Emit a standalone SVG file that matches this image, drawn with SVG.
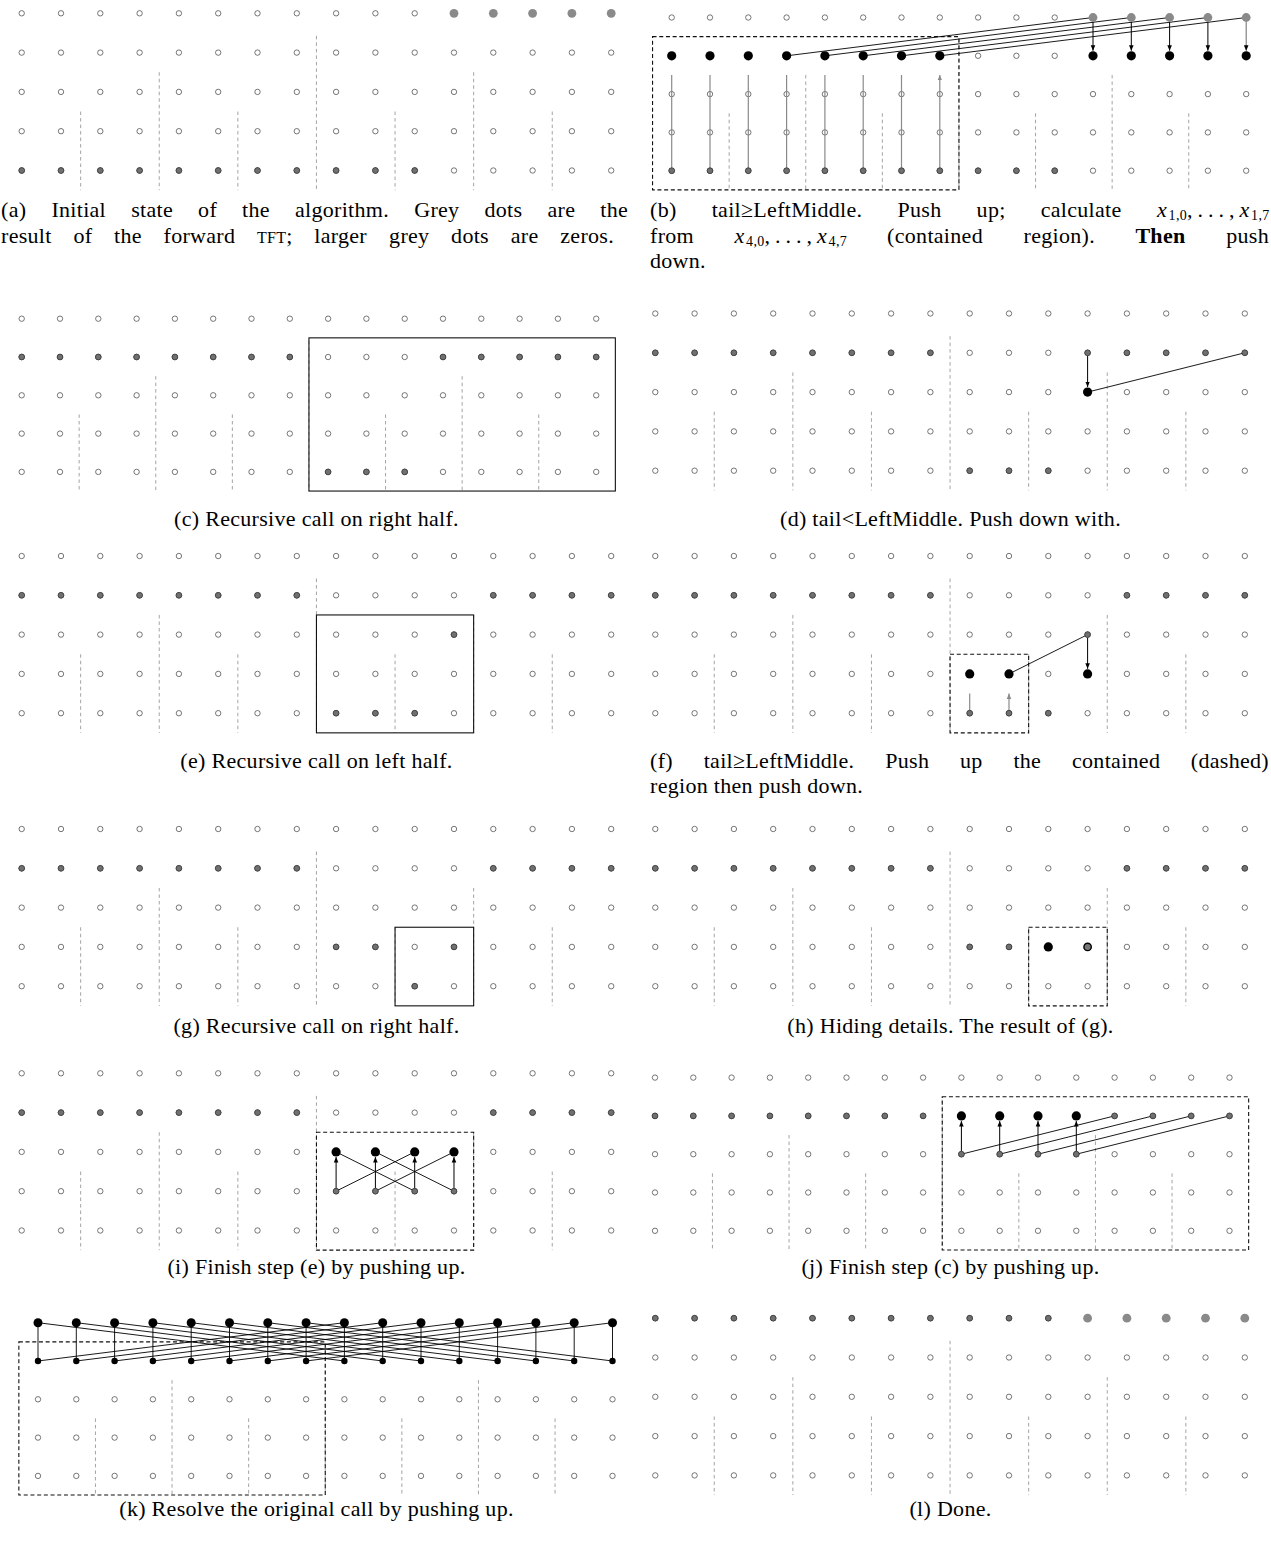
<svg xmlns="http://www.w3.org/2000/svg" width="1271" height="1542" viewBox="0 0 1271 1542">
<style>
.o{fill:none;stroke:#4a4a4a;stroke-width:0.75}
.g{fill:#707070;stroke:#333;stroke-width:0.75}
.G{fill:#8a8a8a}
.b{fill:#000}
.sp{fill:#777;stroke:#000;stroke-width:1.4}
.grid{fill:none;stroke:#9a9a9a;stroke-width:0.9;stroke-dasharray:3.5 3}
.dbox{fill:none;stroke:#111;stroke-width:1.1;stroke-dasharray:4 2.7}
.sbox{fill:none;stroke:#111;stroke-width:1.1}
.ln{fill:none;stroke:#000;stroke-width:0.9}
.ba{fill:none;stroke:#000;stroke-width:1;marker-end:url(#ahb)}
.bag{fill:none;stroke:#777;stroke-width:1.1;marker-end:url(#ahb)}
.ga{fill:none;stroke:#8a8a8a;stroke-width:1.2;marker-end:url(#ahg)}
.cap{font-family:"Liberation Serif","Times New Roman",serif;font-size:22px;letter-spacing:0.3px;fill:#000}
.mi{font-style:italic}
.sub{font-size:14px}
</style>
<defs>
<marker id="ahb" markerUnits="userSpaceOnUse" markerWidth="6" markerHeight="6" refX="5.5" refY="3" orient="auto" viewBox="0 0 6 6"><path d="M0,0.7L5.5,3L0,5.3z" fill="#000"/></marker>
<marker id="ahg" markerUnits="userSpaceOnUse" markerWidth="6" markerHeight="6" refX="5.5" refY="3" orient="auto" viewBox="0 0 6 6"><path d="M0,0.7L5.5,3L0,5.3z" fill="#8a8a8a"/></marker>
<g id="o39" class="o"><circle r="2.7"/><circle cx="39.3" r="2.7"/><circle cx="78.6" r="2.7"/><circle cx="117.9" r="2.7"/><circle cx="157.2" r="2.7"/><circle cx="196.5" r="2.7"/><circle cx="235.8" r="2.7"/><circle cx="275.1" r="2.7"/><circle cx="314.4" r="2.7"/><circle cx="353.7" r="2.7"/><circle cx="393" r="2.7"/><circle cx="432.3" r="2.7"/><circle cx="471.6" r="2.7"/><circle cx="510.9" r="2.7"/><circle cx="550.2" r="2.7"/><circle cx="589.5" r="2.7"/></g>
<g id="o38" class="o"><circle r="2.7"/><circle cx="38.3" r="2.7"/><circle cx="76.6" r="2.7"/><circle cx="114.9" r="2.7"/><circle cx="153.2" r="2.7"/><circle cx="191.5" r="2.7"/><circle cx="229.8" r="2.7"/><circle cx="268.1" r="2.7"/><circle cx="306.4" r="2.7"/><circle cx="344.7" r="2.7"/><circle cx="383" r="2.7"/><circle cx="421.3" r="2.7"/><circle cx="459.6" r="2.7"/><circle cx="497.9" r="2.7"/><circle cx="536.2" r="2.7"/><circle cx="574.5" r="2.7"/></g>
<path id="grid39" class="grid" d="M294.75,22.6V176.85M137.55,58.95V176.85M451.95,58.95V176.85M58.95,98.25V176.85M216.15,98.25V176.85M373.35,98.25V176.85M530.55,98.25V176.85"/>
<path id="grid38" class="grid" d="M287.25,22.1V172.35M134.05,57.45V172.35M440.45,57.45V172.35M57.45,95.75V172.35M210.65,95.75V172.35M363.85,95.75V172.35M517.05,95.75V172.35"/>
<g id="g07_39" class="g"><circle r="2.9"/><circle cx="39.3" r="2.9"/><circle cx="78.6" r="2.9"/><circle cx="117.9" r="2.9"/><circle cx="157.2" r="2.9"/><circle cx="196.5" r="2.9"/><circle cx="235.8" r="2.9"/><circle cx="275.1" r="2.9"/></g>
<g id="g810_39" class="g"><circle cx="314.4" r="2.9"/><circle cx="353.7" r="2.9"/><circle cx="393" r="2.9"/></g>
<g id="g1215_39" class="g"><circle cx="471.6" r="2.9"/><circle cx="510.9" r="2.9"/><circle cx="550.2" r="2.9"/><circle cx="589.5" r="2.9"/></g>
<g id="G1115_39" class="G"><circle cx="432.3" r="4.4"/><circle cx="471.6" r="4.4"/><circle cx="510.9" r="4.4"/><circle cx="550.2" r="4.4"/><circle cx="589.5" r="4.4"/></g>
<g id="g07_38" class="g"><circle r="2.9"/><circle cx="38.3" r="2.9"/><circle cx="76.6" r="2.9"/><circle cx="114.9" r="2.9"/><circle cx="153.2" r="2.9"/><circle cx="191.5" r="2.9"/><circle cx="229.8" r="2.9"/><circle cx="268.1" r="2.9"/></g>
<g id="g810_38" class="g"><circle cx="306.4" r="2.9"/><circle cx="344.7" r="2.9"/><circle cx="383" r="2.9"/></g>
<g id="g1215_38" class="g"><circle cx="459.6" r="2.9"/><circle cx="497.9" r="2.9"/><circle cx="536.2" r="2.9"/><circle cx="574.5" r="2.9"/></g>
</defs>
<rect width="1271" height="1542" fill="#fff"/>

<!-- (a) -->
<g id="panel-a" transform="translate(21.7,13.3)">
<use href="#grid39"/>
<g id="a-open"><use href="#o39"/><use href="#o39" y="39.3"/><use href="#o39" y="78.6"/><use href="#o39" y="117.9"/><use href="#o39" y="157.2"/></g>
<g id="a-dots"><use href="#G1115_39"/><use href="#g07_39" y="157.2"/><use href="#g810_39" y="157.2"/></g>
</g>

<!-- (b) -->
<g id="panel-b" transform="translate(671.7,17.5)">
<use href="#grid38"/>
<g id="b-open"><use href="#o38"/><use href="#o38" y="38.3"/><use href="#o38" y="76.6"/><use href="#o38" y="114.9"/><use href="#o38" y="153.2"/></g>
<rect class="dbox" x="-19.15" y="19.15" width="306.4" height="153.2"/>
<g id="b-connectors">
<path class="ga" d="M0,153.2V57.45M38.3,153.2V57.45M76.6,153.2V57.45M114.9,153.2V57.45M153.2,153.2V57.45M191.5,153.2V57.45M229.8,153.2V57.45M268.1,153.2V57.45"/>
<path class="ln" d="M114.9,38.3L421.3,0M153.2,38.3L459.6,0M191.5,38.3L497.9,0M229.8,38.3L536.2,0M268.1,38.3L574.5,0"/>
<path class="ba" d="M421.3,4.5V33.2"/><path class="ba" d="M459.6,4.5V33.2"/><path class="ba" d="M497.9,4.5V33.2"/><path class="ba" d="M536.2,4.5V33.2"/><path class="bag" d="M574.5,4.5V33.2"/>
</g>
<g id="b-dots">
<g class="G"><circle cx="421.3" r="4.4"/><circle cx="459.6" r="4.4"/><circle cx="497.9" r="4.4"/><circle cx="536.2" r="4.4"/><circle cx="574.5" r="4.4"/></g>
<g class="b"><circle cy="38.3" r="4.6"/><circle cx="38.3" cy="38.3" r="4.6"/><circle cx="76.6" cy="38.3" r="4.6"/><circle cx="114.9" cy="38.3" r="4.6"/><circle cx="153.2" cy="38.3" r="4.6"/><circle cx="191.5" cy="38.3" r="4.6"/><circle cx="229.8" cy="38.3" r="4.6"/><circle cx="268.1" cy="38.3" r="4.6"/><circle cx="421.3" cy="38.3" r="4.6"/><circle cx="459.6" cy="38.3" r="4.6"/><circle cx="497.9" cy="38.3" r="4.6"/><circle cx="536.2" cy="38.3" r="4.6"/><circle cx="574.5" cy="38.3" r="4.6"/></g>
<use href="#g07_38" y="153.2"/><use href="#g810_38" y="153.2"/>
</g>
</g>

<!-- (c) -->
<g id="panel-c" transform="translate(21.7,318.7)">
<use href="#grid38"/>
<g id="c-open"><use href="#o38"/><use href="#o38" y="38.3"/><use href="#o38" y="76.6"/><use href="#o38" y="114.9"/><use href="#o38" y="153.2"/></g>
<rect class="sbox" x="287.25" y="19.15" width="306.4" height="153.2"/>
<g id="c-dots"><use href="#g07_38" y="38.3"/><use href="#g1215_38" y="38.3"/><circle class="g" cx="421.3" cy="38.3" r="2.9"/><use href="#g810_38" y="153.2"/></g>
</g>

<!-- (d) -->
<g id="panel-d" transform="translate(655.3,313.5)">
<use href="#grid39"/>
<g id="d-open"><use href="#o39"/><use href="#o39" y="39.3"/><use href="#o39" y="78.6"/><use href="#o39" y="117.9"/><use href="#o39" y="157.2"/></g>
<g id="d-connectors"><path class="ba" d="M432.3,42.5V73.5"/><path class="ln" d="M432.3,78.6L589.5,39.3"/></g>
<g id="d-dots"><use href="#g07_39" y="39.3"/><use href="#g1215_39" y="39.3"/><circle class="g" cx="432.3" cy="39.3" r="2.9"/><circle class="b" cx="432.3" cy="78.6" r="4.6"/><use href="#g810_39" y="157.2"/></g>
</g>

<!-- (e) -->
<g id="panel-e" transform="translate(21.7,556)">
<use href="#grid39"/>
<g id="e-open"><use href="#o39"/><use href="#o39" y="39.3"/><use href="#o39" y="78.6"/><use href="#o39" y="117.9"/><use href="#o39" y="157.2"/></g>
<rect class="sbox" x="294.75" y="58.95" width="157.2" height="117.9"/>
<g id="e-dots"><use href="#g07_39" y="39.3"/><use href="#g1215_39" y="39.3"/><circle class="g" cx="432.3" cy="78.6" r="2.9"/><use href="#g810_39" y="157.2"/></g>
</g>

<!-- (f) -->
<g id="panel-f" transform="translate(655.3,556)">
<use href="#grid39"/>
<g id="f-open"><use href="#o39"/><use href="#o39" y="39.3"/><use href="#o39" y="78.6"/><use href="#o39" y="117.9"/><use href="#o39" y="157.2"/></g>
<rect class="dbox" x="294.75" y="98.25" width="78.6" height="78.6"/>
<g id="f-connectors"><path class="ga" d="M314.4,157.2V137.55M353.7,157.2V137.55"/><path class="ba" d="M432.3,81.8V112.8"/><path class="ln" d="M432.3,78.6L353.7,117.9"/></g>
<g id="f-dots"><use href="#g07_39" y="39.3"/><use href="#g1215_39" y="39.3"/><circle class="g" cx="432.3" cy="78.6" r="2.9"/><g class="b"><circle cx="314.4" cy="117.9" r="4.6"/><circle cx="353.7" cy="117.9" r="4.6"/><circle cx="432.3" cy="117.9" r="4.6"/></g><use href="#g810_39" y="157.2"/></g>
</g>

<!-- (g) -->
<g id="panel-g" transform="translate(21.7,829)">
<use href="#grid39"/>
<g id="g-open"><use href="#o39"/><use href="#o39" y="39.3"/><use href="#o39" y="78.6"/><use href="#o39" y="117.9"/><use href="#o39" y="157.2"/></g>
<rect class="sbox" x="373.35" y="98.25" width="78.6" height="78.6"/>
<g id="g-dots"><use href="#g07_39" y="39.3"/><use href="#g1215_39" y="39.3"/><g class="g"><circle cx="314.4" cy="117.9" r="2.9"/><circle cx="353.7" cy="117.9" r="2.9"/><circle cx="432.3" cy="117.9" r="2.9"/><circle cx="393" cy="157.2" r="2.9"/></g></g>
</g>

<!-- (h) -->
<g id="panel-h" transform="translate(655.3,829)">
<use href="#grid39"/>
<g id="h-open"><use href="#o39"/><use href="#o39" y="39.3"/><use href="#o39" y="78.6"/><use href="#o39" y="117.9"/><use href="#o39" y="157.2"/></g>
<rect class="dbox" x="373.35" y="98.25" width="78.6" height="78.6"/>
<g id="h-dots"><use href="#g07_39" y="39.3"/><use href="#g1215_39" y="39.3"/><g class="g"><circle cx="314.4" cy="117.9" r="2.9"/><circle cx="353.7" cy="117.9" r="2.9"/></g><circle class="b" cx="393" cy="117.9" r="4.6"/><circle class="sp" cx="432.3" cy="117.9" r="3.7"/></g>
</g>

<!-- (i) -->
<g id="panel-i" transform="translate(21.7,1073.3)">
<use href="#grid39"/>
<g id="i-open"><use href="#o39"/><use href="#o39" y="39.3"/><use href="#o39" y="78.6"/><use href="#o39" y="117.9"/><use href="#o39" y="157.2"/></g>
<rect class="dbox" x="294.75" y="58.95" width="157.2" height="117.9"/>
<g id="i-connectors"><path class="ln" d="M314.4,78.6L393,117.9M353.7,78.6L432.3,117.9M314.4,117.9L393,78.6M353.7,117.9L432.3,78.6"/><path class="ba" d="M314.4,114.9V83.8"/><path class="ba" d="M353.7,114.9V83.8"/><path class="ba" d="M393,114.9V83.8"/><path class="ba" d="M432.3,114.9V83.8"/></g>
<g id="i-dots"><use href="#g07_39" y="39.3"/><use href="#g1215_39" y="39.3"/><g class="b"><circle cx="314.4" cy="78.6" r="4.6"/><circle cx="353.7" cy="78.6" r="4.6"/><circle cx="393" cy="78.6" r="4.6"/><circle cx="432.3" cy="78.6" r="4.6"/></g><g class="g"><circle cx="314.4" cy="117.9" r="2.9"/><circle cx="353.7" cy="117.9" r="2.9"/><circle cx="393" cy="117.9" r="2.9"/><circle cx="432.3" cy="117.9" r="2.9"/></g></g>
</g>

<!-- (j) -->
<g id="panel-j" transform="translate(655,1077.6)">
<use href="#grid38"/>
<g id="j-open"><use href="#o38"/><use href="#o38" y="38.3"/><use href="#o38" y="76.6"/><use href="#o38" y="114.9"/><use href="#o38" y="153.2"/></g>
<rect class="dbox" x="287.25" y="19.15" width="306.4" height="153.2"/>
<g id="j-connectors"><path class="ln" d="M306.4,76.6L459.6,38.3M344.7,76.6L497.9,38.3M383,76.6L536.2,38.3M421.3,76.6L574.5,38.3"/><path class="ba" d="M306.4,73.6V43.5"/><path class="ba" d="M344.7,73.6V43.5"/><path class="ba" d="M383,73.6V43.5"/><path class="ba" d="M421.3,73.6V43.5"/></g>
<g id="j-dots"><use href="#g07_38" y="38.3"/><use href="#g1215_38" y="38.3"/><g class="b"><circle cx="306.4" cy="38.3" r="4.6"/><circle cx="344.7" cy="38.3" r="4.6"/><circle cx="383" cy="38.3" r="4.6"/><circle cx="421.3" cy="38.3" r="4.6"/></g><g class="g"><circle cx="306.4" cy="76.6" r="2.9"/><circle cx="344.7" cy="76.6" r="2.9"/><circle cx="383" cy="76.6" r="2.9"/><circle cx="421.3" cy="76.6" r="2.9"/></g></g>
</g>

<!-- (k) -->
<g id="panel-k" transform="translate(38,1322.7)">
<use href="#grid38"/>
<g id="k-open"><use href="#o38" y="76.6"/><use href="#o38" y="114.9"/><use href="#o38" y="153.2"/></g>
<rect class="dbox" x="-19.15" y="19.15" width="306.4" height="153.2"/>
<g id="k-connectors">
<path class="ln" d="M0,38.3V0M38.3,38.3V0M76.6,38.3V0M114.9,38.3V0M153.2,38.3V0M191.5,38.3V0M229.8,38.3V0M268.1,38.3V0M306.4,38.3V0M344.7,38.3V0M383,38.3V0M421.3,38.3V0M459.6,38.3V0M497.9,38.3V0M536.2,38.3V0M574.5,38.3V0"/>
<path class="ln" d="M0,0L306.4,38.3M0,38.3L306.4,0M38.3,0L344.7,38.3M38.3,38.3L344.7,0M76.6,0L383,38.3M76.6,38.3L383,0M114.9,0L421.3,38.3M114.9,38.3L421.3,0M153.2,0L459.6,38.3M153.2,38.3L459.6,0M191.5,0L497.9,38.3M191.5,38.3L497.9,0M229.8,0L536.2,38.3M229.8,38.3L536.2,0M268.1,0L574.5,38.3M268.1,38.3L574.5,0"/>
</g>
<g id="k-dots" class="b">
<circle r="4.5"/><circle cx="38.3" r="4.5"/><circle cx="76.6" r="4.5"/><circle cx="114.9" r="4.5"/><circle cx="153.2" r="4.5"/><circle cx="191.5" r="4.5"/><circle cx="229.8" r="4.5"/><circle cx="268.1" r="4.5"/><circle cx="306.4" r="4.5"/><circle cx="344.7" r="4.5"/><circle cx="383" r="4.5"/><circle cx="421.3" r="4.5"/><circle cx="459.6" r="4.5"/><circle cx="497.9" r="4.5"/><circle cx="536.2" r="4.5"/><circle cx="574.5" r="4.5"/>
<circle cy="38.3" r="3.2"/><circle cx="38.3" cy="38.3" r="3.2"/><circle cx="76.6" cy="38.3" r="3.2"/><circle cx="114.9" cy="38.3" r="3.2"/><circle cx="153.2" cy="38.3" r="3.2"/><circle cx="191.5" cy="38.3" r="3.2"/><circle cx="229.8" cy="38.3" r="3.2"/><circle cx="268.1" cy="38.3" r="3.2"/><circle cx="306.4" cy="38.3" r="3.2"/><circle cx="344.7" cy="38.3" r="3.2"/><circle cx="383" cy="38.3" r="3.2"/><circle cx="421.3" cy="38.3" r="3.2"/><circle cx="459.6" cy="38.3" r="3.2"/><circle cx="497.9" cy="38.3" r="3.2"/><circle cx="536.2" cy="38.3" r="3.2"/><circle cx="574.5" cy="38.3" r="3.2"/>
</g>
</g>

<!-- (l) -->
<g id="panel-l" transform="translate(655.3,1318.2)">
<use href="#grid39"/>
<g id="l-open"><use href="#o39"/><use href="#o39" y="39.3"/><use href="#o39" y="78.6"/><use href="#o39" y="117.9"/><use href="#o39" y="157.2"/></g>
<g id="l-dots"><use href="#g07_39"/><use href="#g810_39"/><use href="#G1115_39"/></g>
</g>

<!-- captions -->
<g id="captions" class="cap">
<text y="217"><tspan x="1">(a)</tspan><tspan x="51.4">Initial</tspan><tspan x="131.2">state</tspan><tspan x="198.1">of</tspan><tspan x="242.1">the</tspan><tspan x="295">algorithm.</tspan><tspan x="414.2">Grey</tspan><tspan x="484.5">dots</tspan><tspan x="547.5">are</tspan></text>
<text x="628" y="217" text-anchor="end">the</text>
<text y="243"><tspan x="1">result</tspan><tspan x="73.4">of</tspan><tspan x="114">the</tspan><tspan x="163.5">forward</tspan><tspan x="256.9"><tspan font-size="16">TFT</tspan>;</tspan><tspan x="314.3">larger</tspan><tspan x="389.1">grey</tspan><tspan x="451.1">dots</tspan><tspan x="510.7">are</tspan></text>
<text x="614" y="243" text-anchor="end">zeros.</text>
<text y="217"><tspan x="650">(b)</tspan><tspan x="711.7">tail≥LeftMiddle.</tspan><tspan x="897.5">Push</tspan><tspan x="976.6">up;</tspan><tspan x="1040.7">calculate</tspan></text>
<text x="1157" y="217"><tspan class="mi">x</tspan><tspan class="sub" dx="1.5" dy="2.5">1,0</tspan><tspan dy="-2.5">,&#8201;.&#8201;.&#8201;.&#8201;,&#8201;</tspan><tspan class="mi">x</tspan><tspan class="sub" dx="1.5" dy="2.5">1,7</tspan></text>
<text x="650" y="243">from</text>
<text x="734.5" y="243"><tspan class="mi">x</tspan><tspan class="sub" dx="1.5" dy="2.5">4,0</tspan><tspan dy="-2.5">,&#8201;.&#8201;.&#8201;.&#8201;,&#8201;</tspan><tspan class="mi">x</tspan><tspan class="sub" dx="1.5" dy="2.5">4,7</tspan></text>
<text y="243"><tspan x="887.1">(contained</tspan><tspan x="1023.5">region).</tspan><tspan x="1135.4" font-weight="bold">Then</tspan></text>
<text x="1269" y="243" text-anchor="end">push</text>
<text x="650" y="268">down.</text>
<text x="316.5" y="526" text-anchor="middle">(c) Recursive call on right half.</text>
<text x="950.5" y="526" text-anchor="middle">(d) tail&lt;LeftMiddle. Push down with.</text>
<text x="316.5" y="768" text-anchor="middle">(e) Recursive call on left half.</text>
<text y="768"><tspan x="650">(f)</tspan><tspan x="703.7">tail≥LeftMiddle.</tspan><tspan x="885.2">Push</tspan><tspan x="960">up</tspan><tspan x="1013.4">the</tspan><tspan x="1072">contained</tspan></text>
<text x="1269" y="768" text-anchor="end">(dashed)</text>
<text x="650" y="793">region then push down.</text>
<text x="316.5" y="1033" text-anchor="middle">(g) Recursive call on right half.</text>
<text x="950.5" y="1033" text-anchor="middle">(h) Hiding details. The result of (g).</text>
<text x="316.5" y="1274" text-anchor="middle">(i) Finish step (e) by pushing up.</text>
<text x="950.5" y="1274" text-anchor="middle">(j) Finish step (c) by pushing up.</text>
<text x="316.5" y="1516" text-anchor="middle">(k) Resolve the original call by pushing up.</text>
<text x="950.5" y="1516" text-anchor="middle">(l) Done.</text>
</g>
</svg>
